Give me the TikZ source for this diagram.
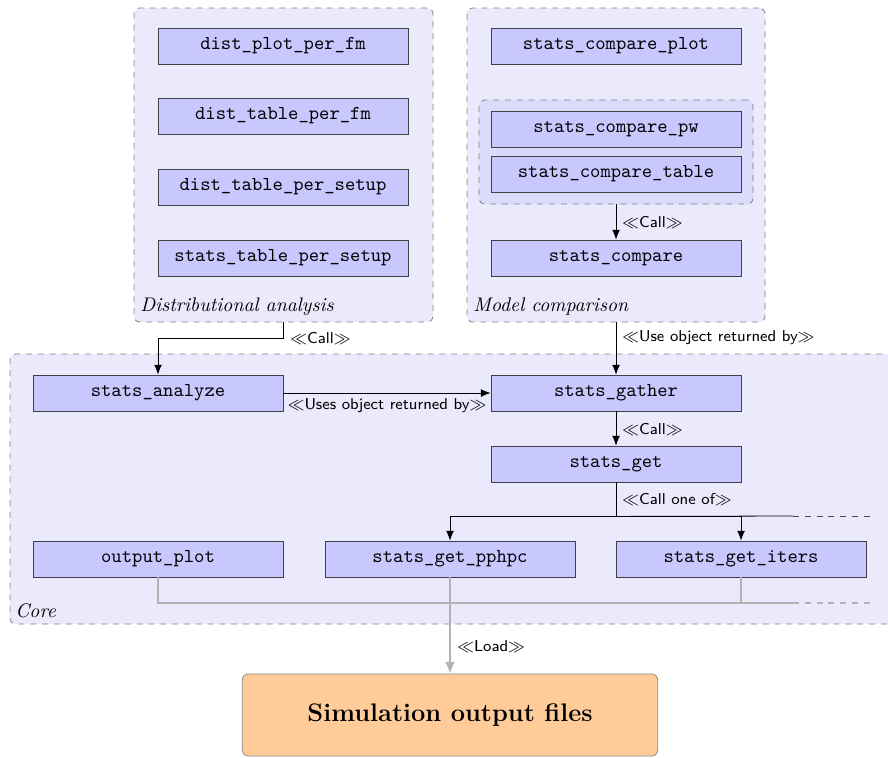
\documentclass[tikz,border=0pt]{standalone}
\usetikzlibrary{fit,arrows.meta}
\definecolor{nodefill}{RGB}{200,200,255}
\definecolor{grpfill}{RGB}{234,234,252}
\definecolor{innerfill}{RGB}{218,218,250}
\definecolor{simfill}{RGB}{255,204,153}
\begin{document}
\begin{tikzpicture}[x=0.508pt,y=-0.508pt,
  fn/.style={draw=black!75, fill=nodefill, minimum width=127pt, minimum height=18.3pt, inner sep=0pt, font=\ttfamily},
  grp/.style={draw=black!50, dashed, fill=grpfill, rounded corners=3pt, inner sep=0pt},
  innergrp/.style={grp, fill=innerfill},
  grplbl/.style={anchor=base west, font=\itshape, inner sep=0pt},
  lbl/.style={font=\footnotesize\sffamily, inner sep=1pt},
  arr/.style={-{Latex[length=5pt,width=4pt]}, black},
  garr/.style={-{Latex[length=6pt,width=5pt]}, black!30, line width=0.7pt},
  gline/.style={black!30, line width=0.7pt},
]
\clip (0,0) rectangle (888,757);
\useasboundingbox (0,0) rectangle (888,757);

% groups
\node[grp, fit={(134,8) (433,322)}] (dist) {};
\node[grp, fit={(467,8) (765,322)}] (model) {};
\node[innergrp, fit={(479,100) (753,204)}] (cmpgrp) {};
\node[grp, fit={(10,354) (900,624)}] (core) {};

\node[grplbl] at (140,311) {Distributional analysis};
\node[grplbl] at (473,311) {Model comparison};
\node[grplbl] at (15,617) {Core};

% distributional analysis
\node[fn] (dpf) at (283,46) {dist\_plot\_per\_fm};
\node[fn] (dtf) at (283,116) {dist\_table\_per\_fm};
\node[fn] (dts) at (283,187) {dist\_table\_per\_setup};
\node[fn] (sts) at (283,258) {stats\_table\_per\_setup};

% model comparison
\node[fn] (scp) at (616,46) {stats\_compare\_plot};
\node[fn] (scpw) at (616,129) {stats\_compare\_pw};
\node[fn] (sct) at (616,174) {stats\_compare\_table};
\node[fn] (sc) at (616,258) {stats\_compare};

% core
\node[fn] (analyze) at (158,393) {stats\_analyze};
\node[fn] (gather) at (616,393) {stats\_gather};
\node[fn] (get) at (616,464) {stats\_get};
\node[fn] (oplot) at (158,559) {output\_plot};
\node[fn] (pphpc) at (450,559) {stats\_get\_pphpc};
\node[fn] (iters) at (741,559) {stats\_get\_iters};

% simulation output
\node[draw=black!45, fill=simfill, rounded corners=3pt, minimum width=211pt, minimum height=41.7pt, font=\fontsize{12.9}{15}\selectfont\bfseries] (sim) at (450,715) {Simulation output files};

% connectors
\draw[arr] (cmpgrp.south) -- (sc.north);
\node[lbl, anchor=west] at (620,222) {$\ll$Call$\gg$};

\draw[arr] (dist.south) -- ++(0,16) -| (analyze.north);
\node[lbl, anchor=west] at (288,338) {$\ll$Call$\gg$};

\draw[arr] (model.south) -- (gather.north);
\node[lbl, anchor=west] at (620,338) {$\ll$Use object returned by$\gg$};

\draw[arr] (analyze.east) -- (gather.west);
\node[lbl] at (387,406) {$\ll$Uses object returned by$\gg$};

\draw[arr] (gather.south) -- (get.north);
\node[lbl, anchor=west] at (620,429) {$\ll$Call$\gg$};

\draw (get.south) -- ++(0,34) coordinate (split);
\node[lbl, anchor=west] at (620,499) {$\ll$Call one of$\gg$};
\coordinate (cend) at (793,516);
\coordinate (cdash) at (875,516);
\draw[arr] (split) -| (pphpc.north);
\draw[arr] (split) -| (iters.north);
\draw (split) -- (cend);
\draw[dashed, black!70] (cend) -- (cdash);

\coordinate (gend) at (793,603);
\coordinate (gdash) at (875,603);
\draw[gline] (oplot.south) |- (gend);
\draw[gline, dashed] (gend) -- (gdash);
\draw[gline] (iters.south) -- (iters.south |- gend);
\draw[garr] (pphpc.south) -- (sim.north);
\node[lbl, anchor=west] at (455,647) {$\ll$Load$\gg$};
\end{tikzpicture}
\end{document}
